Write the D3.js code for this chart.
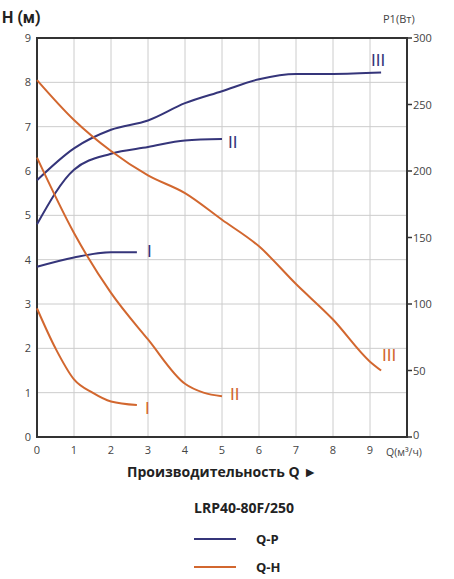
<!DOCTYPE html><html><head><meta charset="utf-8"><script src="https://cdn.jsdelivr.net/npm/d3@7"></script>
<style>body{margin:0;background:#fff}svg{font-family:"Open Sans",sans-serif}</style></head><body><svg id="c" width="454" height="579"></svg>
<script>
const qTicks=[0,1,2,3,4,5,6,7,8,9];
const hTicks=[0,1,2,3,4,5,6,7,8,9];
const pTicks=[0,50,100,150,200,250,300];
const qp3=[[0,193],[1,217],[2,231],[3,238],[4,251],[5,260],[6,269],[7,273],[8,273],[9.3,274]];
const qp2=[[0,160],[1,201],[2,213],[3,218],[4,223],[5,224]];
const qp1=[[0,128],[1,135],[2,139],[2.7,139]];
const qh3=[[0,8.05],[1,7.15],[2,6.45],[3,5.9],[4,5.5],[5,4.9],[6,4.3],[7,3.45],[8,2.65],[9,1.7],[9.3,1.5]];
const qh2=[[0,6.3],[1,4.6],[2,3.25],[3,2.2],[4,1.2],[4.5,1.0],[5,0.92]];
const qh1=[[0,2.9],[0.5,2.0],[1,1.3],[1.5,1.0],[2,0.8],[2.7,0.72]];
const svg=d3.select("#c");
const x=d3.scaleLinear([0,10],[37,407]);
const yH=d3.scaleLinear([0,9],[437,38]);
const yP=d3.scaleLinear([0,300],[437,38]);
const blue="#35357a",orange="#d2672f";
const g=svg.append("g");
qTicks.slice(1).forEach(t=>g.append("line").attr("x1",x(t)).attr("x2",x(t)).attr("y1",38).attr("y2",437).attr("stroke","#ccc"));
hTicks.slice(1).forEach(t=>g.append("line").attr("x1",37).attr("x2",407).attr("y1",yH(t)).attr("y2",yH(t)).attr("stroke","#ccc"));
svg.append("rect").attr("x",37).attr("y",38).attr("width",370).attr("height",399).attr("fill","none").attr("stroke","#333").attr("stroke-width",2);
const ax=svg.append("g").attr("font-size",11).attr("fill","#444");
hTicks.forEach(t=>ax.append("text").attr("x",31).attr("y",yH(t)+4).attr("text-anchor","end").text(t));
pTicks.forEach(t=>{ax.append("text").attr("x",413).attr("y",yP(t)+(t===0?2:4)).text(t);svg.append("line").attr("x1",407).attr("x2",412).attr("y1",yP(t)).attr("y2",yP(t)).attr("stroke","#333").attr("stroke-width",1.5);});
qTicks.forEach(t=>ax.append("text").attr("x",x(t)).attr("y",454).attr("text-anchor","middle").text(t));
ax.append("text").attr("x",386).attr("y",456).attr("font-size",10.5).text("Q(м³/ч)");
ax.append("text").attr("x",383).attr("y",23).text("P1(Вт)");
svg.append("text").attr("x",2).attr("y",23).attr("font-size",16).attr("font-weight","bold").attr("fill","#222").attr("font-family","Roboto").text("H (м)");
const lH=d3.line().x(d=>x(d[0])).y(d=>yH(d[1])).curve(d3.curveMonotoneX);
const lP=d3.line().x(d=>x(d[0])).y(d=>yP(d[1])).curve(d3.curveMonotoneX);
[qp1,qp2,qp3].forEach(d=>svg.append("path").attr("d",lP(d)).attr("fill","none").attr("stroke",blue).attr("stroke-width",2));
[qh1,qh2,qh3].forEach(d=>svg.append("path").attr("d",lH(d)).attr("fill","none").attr("stroke",orange).attr("stroke-width",2));
const lab=(t,px,py,c)=>svg.append("text").attr("x",px).attr("y",py).attr("font-size",17).attr("fill",c).attr("font-family","Liberation Sans Narrow, sans-serif").text(t);
lab("III",371,66,blue);lab("II",228,148,blue);lab("I",147,257,blue);
lab("III",382,361,orange);lab("II",230,400,orange);lab("I",145,414,orange);
svg.append("text").attr("x",127).attr("y",477).attr("font-size",14).attr("font-weight","bold").attr("fill","#222").text("Производительность Q ►");
svg.append("text").attr("x",194).attr("y",513).attr("font-size",14).attr("font-weight","bold").attr("fill","#222").text("LRP40-80F/250");
svg.append("line").attr("x1",194).attr("x2",236).attr("y1",539).attr("y2",539).attr("stroke",blue).attr("stroke-width",2);
svg.append("line").attr("x1",194).attr("x2",236).attr("y1",567).attr("y2",567).attr("stroke",orange).attr("stroke-width",2);
svg.append("text").attr("x",256).attr("y",544).attr("font-size",13).attr("font-weight","bold").attr("fill","#222").text("Q-P");
svg.append("text").attr("x",256).attr("y",572).attr("font-size",13).attr("font-weight","bold").attr("fill","#222").text("Q-H");
</script></body></html>
